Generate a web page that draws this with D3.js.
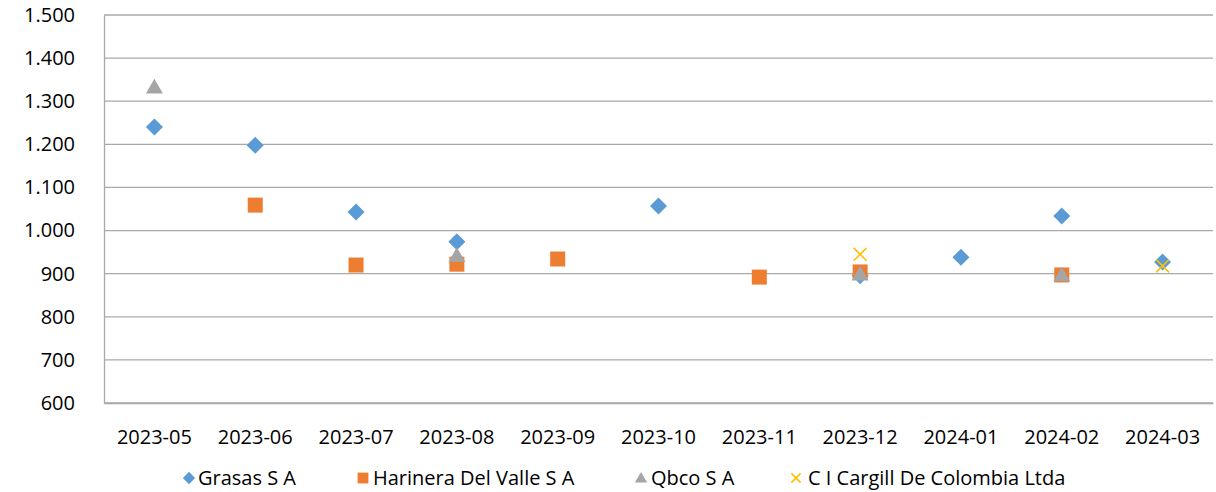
<!DOCTYPE html>
<html><head><meta charset="utf-8">
<script src="https://cdn.jsdelivr.net/npm/d3@7"></script>
<style>body{margin:0;background:#fff;} svg{display:block;}</style>
</head><body>
<svg id="chart" width="1216" height="492"></svg>
<script>
const categories = ["2023-05","2023-06","2023-07","2023-08","2023-09","2023-10","2023-11","2023-12","2024-01","2024-02","2024-03"];
const grasas   = [1240, 1198, 1043, 974, null, 1057, null, 895, 938, 1034, 927];
const harinera = [null, 1059, 920, 922, 934, null, 892, 904, null, 897, null];
const qbco     = [1333, null, null, 942, null, null, null, 899, null, 897, null];
const cargill  = [null, null, null, null, null, null, null, 945, null, null, 918];
const yTicks = [600,700,800,900,1000,1100,1200,1300,1400,1500];
const seriesNames = ["Grasas S A","Harinera Del Valle S A","Qbco S A","C I Cargill De Colombia Ltda"];

const series = [
  {name: seriesNames[0], values: grasas, color: "#5B9BD5", shape: "diamond"},
  {name: seriesNames[1], values: harinera, color: "#ED7D31", shape: "square"},
  {name: seriesNames[2], values: qbco, color: "#A5A5A5", shape: "triangle"},
  {name: seriesNames[3], values: cargill, color: "#FFC000", shape: "x"}
];

const svg = d3.select("#chart");
const L = 104, R = 1213, T = 15, B = 403;
const font = "'Open Sans', 'Noto Sans', sans-serif";
const fs = 20;
const x = d3.scaleBand().domain(categories).range([L, R]);
const y = d3.scaleLinear().domain([600, 1500]).range([B, T]);
const fmt = v => d3.format(",")(v).replace(/,/g, ".");

// gridlines
svg.append("g").selectAll("line").data(yTicks).join("line")
  .attr("x1", L).attr("x2", R)
  .attr("y1", d => y(d)).attr("y2", d => y(d))
  .attr("stroke", "#a9a9a9").attr("stroke-width", 1.3);

// y axis
const yAxis = svg.append("g").attr("transform", `translate(${L},0)`)
  .call(d3.axisLeft(y).tickValues(yTicks).tickFormat(fmt).tickSize(0).tickPadding(29));
yAxis.select(".domain").attr("stroke", "#a9a9a9").attr("stroke-width", 1.3);
yAxis.selectAll("text").attr("font-family", font).attr("font-size", fs).attr("fill", "#000");

// x axis
const xAxis = svg.append("g").attr("transform", `translate(0,${B})`)
  .call(d3.axisBottom(x).tickSize(0).tickPadding(27));
xAxis.select(".domain").attr("stroke", "#a9a9a9").attr("stroke-width", 1.3);
xAxis.selectAll("text").attr("font-family", font).attr("font-size", fs).attr("fill", "#000");

const sym = {
  square: d3.symbol().type(d3.symbolSquare).size(225),
  triangle: d3.symbol().type(d3.symbolTriangle).size(125),
  x: d3.symbol().type(d3.symbolTimes).size(110)
};
function drawMarker(g, s, cx, cy, sc) {
  sc = sc || 1;
  const p = g.append("path").attr("transform", `translate(${cx},${cy}) scale(${sc})`);
  if (s.shape === "x") {
    p.attr("d", sym.x()).attr("fill", "none").attr("stroke", s.color).attr("stroke-width", 1.6 / sc);
  } else if (s.shape === "diamond") {
    p.attr("d", d3.symbol().type(d3.symbolSquare).size(145)()).attr("fill", s.color)
     .attr("transform", `translate(${cx},${cy}) scale(${sc}) rotate(45)`);
  } else if (s.shape === "triangle") {
    p.attr("d", sym.triangle()).attr("fill", s.color)
     .attr("transform", `translate(${cx},${cy + 1.5 * sc}) scale(${sc})`);
  } else {
    p.attr("d", sym[s.shape]()).attr("fill", s.color);
  }
}

series.forEach(s => {
  const g = svg.append("g");
  s.values.forEach((v, i) => {
    if (v == null) return;
    drawMarker(g, s, x(categories[i]) + x.bandwidth()/2, y(v));
  });
});

// legend
const legendPos = [[189, 198], [363, 373], [641, 651], [796, 808]];
series.forEach((s, i) => {
  const g = svg.append("g");
  drawMarker(g, s, legendPos[i][0], 478, 0.72);
  g.append("text").attr("x", legendPos[i][1]).attr("y", 478).attr("dy", "0.35em")
    .attr("font-family", font).attr("font-size", fs).attr("fill", "#000").text(s.name);
});
</script>
</body></html>
